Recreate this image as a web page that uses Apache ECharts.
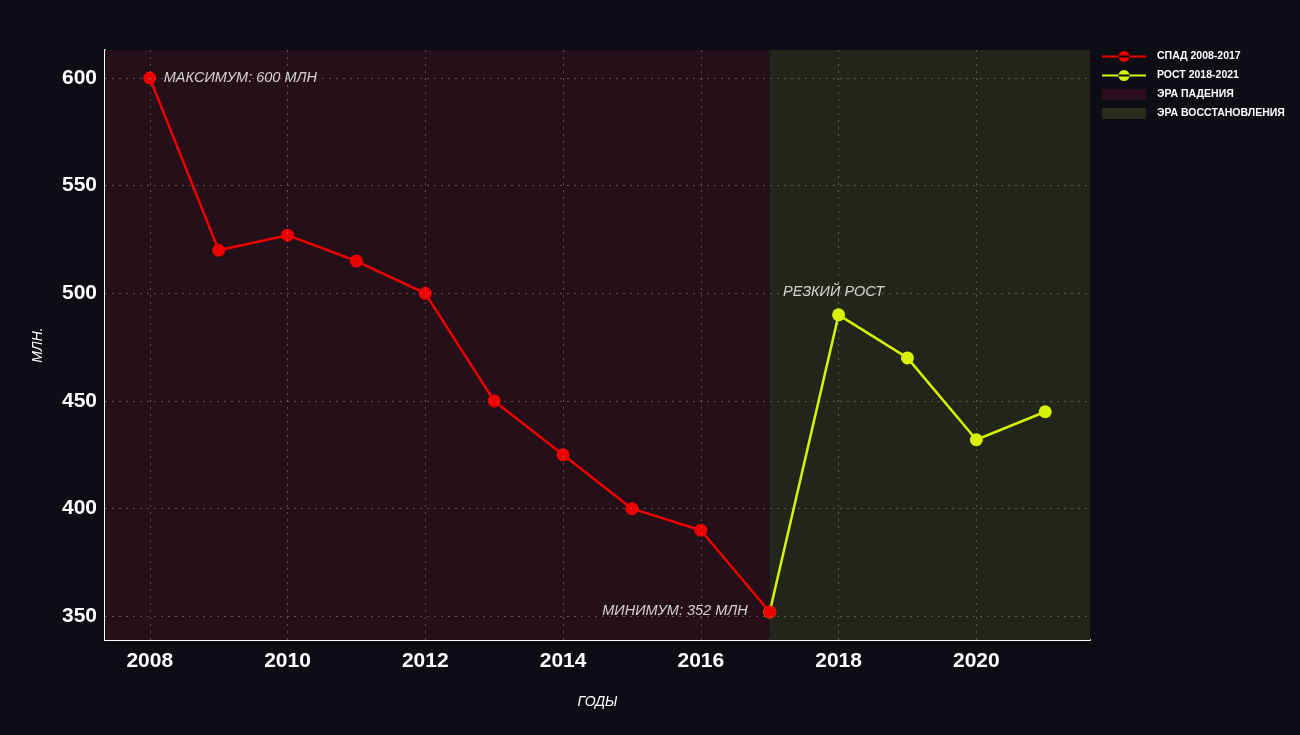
<!DOCTYPE html>
<html><head><meta charset="utf-8">
<script src="https://cdn.jsdelivr.net/npm/echarts@6/dist/echarts.min.js"></script>
<style>html,body{margin:0;padding:0;background:#0c0d15;}#c{width:1300px;height:735px;}</style>
</head><body><div id="c"></div>
<script>
const declineYears = [2008, 2009, 2010, 2011, 2012, 2013, 2014, 2015, 2016, 2017];
const declineValues = [600, 520, 527, 515, 500, 450, 425, 400, 390, 352];
const growthYears = [2017, 2018, 2019, 2020, 2021];
const growthValues = [352, 490, 470, 432, 445];
const xTicks = [2008, 2010, 2012, 2014, 2016, 2018, 2020];
const yTicks = [350, 400, 450, 500, 550, 600];
const eraSplit = 2017;
const names = {decline: 'СПАД 2008-2017', growth: 'РОСТ 2018-2021', fallEra: 'ЭРА ПАДЕНИЯ', recEra: 'ЭРА ВОССТАНОВЛЕНИЯ'};
const notes = {max: 'МАКСИМУМ: 600 МЛН', min: 'МИНИМУМ: 352 МЛН', jump: 'РЕЗКИЙ РОСТ'};

const RED = '#ee0000', YEL = '#d6f205', FALL = '#251019', REC = '#22251a';
const FONT = '"Liberation Sans", Arial, sans-serif';
const chart = echarts.init(document.getElementById('c'));
const decl = declineYears.map((y, i) => [y, declineValues[i]]);
const grow = growthYears.map((y, i) => [y, growthValues[i]]);
const xMin = 2007.35, xMax = 2021.65;
const noteStyle = {color: '#ffffff', fontSize: 14.5, fontStyle: 'italic', fontFamily: FONT};

chart.setOption({
  backgroundColor: '#0c0d15',
  animation: false,
  textStyle: {fontFamily: FONT},
  grid: {left: 105, right: 210, top: 50, bottom: 95, containLabel: false},
  legend: {
    orient: 'vertical', left: 1097, top: 46, itemGap: 8, itemWidth: 44, itemHeight: 11,
    textStyle: {color: '#fff', fontSize: 10.5, fontWeight: 'bold', fontFamily: FONT, padding: [0, 0, 0, 6]},
    data: [
      {name: names.decline, icon: 'path://M0,4.5H44V6.5H0Z M22,5.5m-5.5,0a5.5,5.5 0 1,0 11,0a5.5,5.5 0 1,0 -11,0', itemStyle: {color: RED}},
      {name: names.growth, icon: 'path://M0,4.5H44V6.5H0Z M22,5.5m-5.5,0a5.5,5.5 0 1,0 11,0a5.5,5.5 0 1,0 -11,0', itemStyle: {color: YEL}},
      {name: names.fallEra, icon: 'rect', itemStyle: {color: '#2c0f1a'}},
      {name: names.recEra, icon: 'rect', itemStyle: {color: '#282c1c'}}
    ]
  },
  xAxis: {
    type: 'value', min: xMin, max: xMax, interval: 2,
    name: 'ГОДЫ', nameLocation: 'middle', nameGap: 55,
    nameTextStyle: {color: '#fff', fontSize: 14, fontStyle: 'italic', fontFamily: FONT},
    axisLine: {show: true, lineStyle: {color: '#fff', width: 2}},
    axisTick: {show: false},
    axisLabel: {color: '#fff', fontSize: 21, fontWeight: 'bold', margin: 11, fontFamily: FONT,
      customValues: xTicks, formatter: v => String(Math.round(v))},
    splitLine: {show: false}
  },
  yAxis: {
    type: 'value', min: 339, max: 613,
    name: 'МЛН.', nameLocation: 'middle', nameGap: 60, nameRotate: 90,
    nameTextStyle: {color: '#fff', fontSize: 14, fontStyle: 'italic', fontFamily: FONT},
    axisLine: {show: true, lineStyle: {color: '#fff', width: 2}},
    axisTick: {show: false},
    axisLabel: {color: '#fff', fontSize: 21, fontWeight: 'bold', margin: 8, fontFamily: FONT,
      customValues: yTicks},
    splitLine: {show: false}
  },
  series: [
    {name: names.fallEra, type: 'line', data: [], silent: true,
      markArea: {silent: true, itemStyle: {color: FALL}, data: [[{xAxis: xMin}, {xAxis: eraSplit}]]}},
    {name: names.recEra, type: 'line', data: [], silent: true,
      markArea: {silent: true, itemStyle: {color: REC}, data: [[{xAxis: eraSplit}, {xAxis: xMax}]]}},
    {name: 'gridV', type: 'line', data: [], silent: true, z: 1,
      markLine: {silent: true, symbol: 'none', label: {show: false},
        lineStyle: {color: 'rgba(200,200,200,0.35)', type: [2, 5], width: 1},
        data: xTicks.map(v => ({xAxis: v})).concat(yTicks.map(v => ({yAxis: v})))}},
    {name: names.growth, type: 'line', data: grow, z: 3,
      symbol: 'circle', symbolSize: 13, showAllSymbol: true,
      lineStyle: {color: YEL, width: 2.5}, itemStyle: {color: YEL}},
    {name: names.decline, type: 'line', data: decl, z: 4,
      symbol: 'circle', symbolSize: 13,
      lineStyle: {color: RED, width: 2.5}, itemStyle: {color: RED}},
    {type: 'scatter', symbolSize: 0, z: 5, silent: true,
      data: [
        {value: decl[0], label: Object.assign({show: true, position: 'right', distance: 14, formatter: notes.max}, noteStyle)},
        {value: decl[decl.length - 1], label: Object.assign({show: true, position: 'left', distance: 22, offset: [0, -1], formatter: notes.min}, noteStyle)},
        {value: grow[1], label: Object.assign({show: true, position: 'top', distance: 15, offset: [-5, 0], formatter: notes.jump}, noteStyle)}
      ]}
  ]
});
</script></body></html>
